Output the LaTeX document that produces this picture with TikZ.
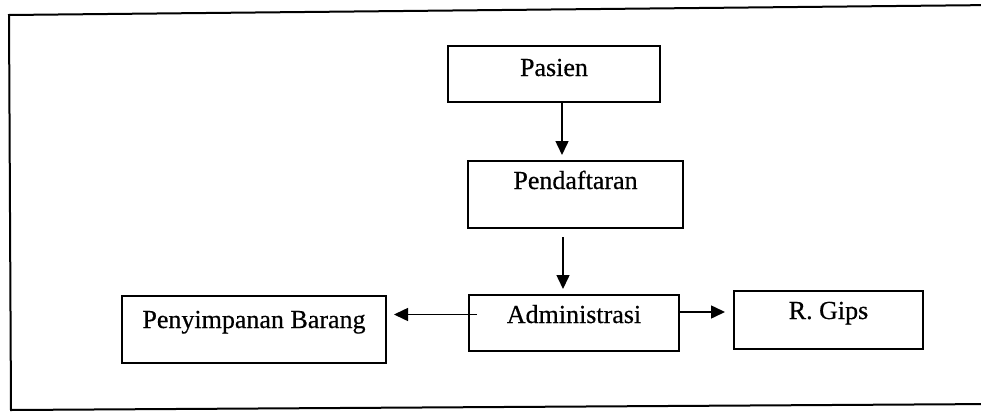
\documentclass[tikz,border=0pt]{standalone}
\usepackage{fontspec}
\setmainfont{Liberation Serif}[FakeBold=0.5]
\usetikzlibrary{arrows.meta}
\begin{document}
\begin{tikzpicture}[x=1pt,y=-1pt,
  stepbox/.style={draw, line width=2pt, inner sep=0pt, anchor=north west,
    font=\fontsize{26}{30}\selectfont},
  arr/.style={line width=1.5pt, -{Triangle[length=14pt,width=13pt]}},
  frame/.style={line width=2pt}]
  \clip (0,0) rectangle (981,412);
  % outer frame (right side runs off the page)
  \coordinate (ftr) at (995,5);
  \coordinate (ftl) at (9,15);
  \coordinate (fbl) at (11,410);
  \coordinate (fbr) at (995,404);
  \draw[frame] (ftr) -- (ftl) -- (fbl) -- (fbr);
  % boxes
  \node[stepbox, minimum width=212pt, text height=30pt, text depth=26pt] (pasien) at (447,45) {Pasien};
  \node[stepbox, minimum width=215pt, text height=28pt, text depth=39pt] (daftar) at (467,160) {Pendaftaran};
  \node[stepbox, minimum width=210pt, text height=28pt, text depth=28pt] (admin) at (468,294) {Administrasi};
  \node[stepbox, minimum width=264pt, text height=32pt, text depth=35pt] (simpan) at (121,295) {Penyimpanan Barang};
  \node[stepbox, minimum width=189pt, text height=28pt, text depth=30pt] (gips) at (733,290) {R. Gips};
  % connectors
  \draw[arr, shorten >=5pt] ([xshift=8pt]pasien.south) -- ([xshift=8pt]pasien.south |- daftar.north);
  \draw[arr, shorten <=8pt, shorten >=5pt] ([xshift=-12.5pt]daftar.south) -- ([xshift=-12.5pt]daftar.south |- admin.north);
  \draw[arr, shorten >=7pt] ([xshift=9pt,yshift=8.5pt]admin.west) -- ([yshift=8.5pt]admin.west -| simpan.east);
  \draw[arr, shorten >=8pt] ([yshift=11pt]admin.east) -- ([yshift=11pt]admin.east -| gips.west);
\end{tikzpicture}
\end{document}
